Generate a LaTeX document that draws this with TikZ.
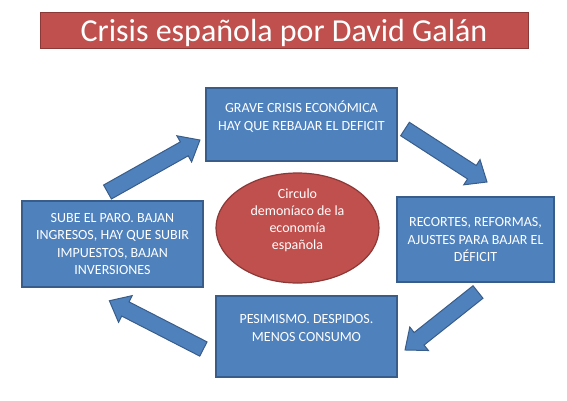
\documentclass[tikz,border=0pt]{standalone}
\usepackage{fontspec}
\setmainfont{Carlito}
\usetikzlibrary{calc,shapes.geometric}
\definecolor{azul}{HTML}{4F81BD}
\definecolor{azulborde}{HTML}{385D8A}
\definecolor{rojo}{HTML}{C0504D}
\definecolor{rojoborde}{HTML}{8C3836}
\tikzset{cajon/.style = {draw=azulborde, fill=azul, line width=1.2pt, text=white,
                         align=center, inner sep=0pt, font=\fontsize{14}{17.5}\selectfont},
         flecha/.style = {draw=azulborde, fill=azul, line width=1pt, line join=miter}}
\newcommand{\flechagorda}[2]{%
  \path let \p1=($(#2)-(#1)$) in
    \pgfextra{\pgfmathsetmacro\flen{veclen(\x1,\y1)}\pgfmathsetmacro\fang{atan2(\y1,\x1)}%
              \xdef\flen{\flen}\xdef\fang{\fang}};
  \begin{scope}[shift={(#1)}, rotate=\fang]
    \draw[flecha] (0,-8) -- (\flen-18,-8) -- (\flen-18,-15) -- (\flen,0)
                  -- (\flen-18,15) -- (\flen-18,8) -- (0,8) -- cycle;
  \end{scope}}

\begin{document}
\begin{tikzpicture}[x=1pt,y=-1pt]
  \useasboundingbox (0,0) rectangle (567,400);
  \node[draw=rojoborde, fill=rojo, line width=1pt, minimum width=488pt, inner sep=0pt,
        text height=29.7pt, text depth=6.3pt, text=white,
        font=\fontsize{32}{38}\selectfont] (titulo) at (284,30) {Crisis española por David Galán};
  \node[cajon, minimum width=191pt, minimum height=73pt] (grave) at (301.5,124.5)
       {GRAVE CRISIS ECONÓMICA\\HAY QUE REBAJAR EL DEFICIT\\\mbox{}};
  \node[cajon, minimum width=157pt, minimum height=85pt] (recortes) at (475.5,239.5)
       {RECORTES, REFORMAS,\\AJUSTES PARA BAJAR EL\\DÉFICIT};
  \node[cajon, minimum width=181pt, minimum height=81pt] (pesimismo) at (306.5,336.5)
       {PESIMISMO. DESPIDOS.\\MENOS CONSUMO\\\mbox{}};
  \node[cajon, minimum width=181pt, minimum height=86pt] (paro) at (112.5,244)
       {SUBE EL PARO. BAJAN\\INGRESOS, HAY QUE SUBIR\\IMPUESTOS, BAJAN\\INVERSIONES};
  \node[ellipse, draw=rojoborde, fill=rojo, line width=1.2pt, minimum width=163pt,
        minimum height=110pt, inner sep=0pt] (circulo) at (297.5,228) {};
  \node[text=white, align=center, inner sep=0pt, font=\fontsize{14}{17}\selectfont]
       (circulotexto) at (circulo.center) {Circulo\\demoníaco de la\\economía\\española\\\mbox{}};
  \coordinate (uno1) at (107.5,192);   \coordinate (uno2) at (200,140);
  \coordinate (dos1) at (405,129);     \coordinate (dos2) at (487,182);
  \coordinate (tres1) at (478,292);    \coordinate (tres2) at (405,350);
  \coordinate (cuatro1) at (203.4,349); \coordinate (cuatro2) at (109.3,300.7);
  \flechagorda{uno1}{uno2}
  \flechagorda{dos1}{dos2}
  \flechagorda{tres1}{tres2}
  \flechagorda{cuatro1}{cuatro2}
\end{tikzpicture}
\end{document}
